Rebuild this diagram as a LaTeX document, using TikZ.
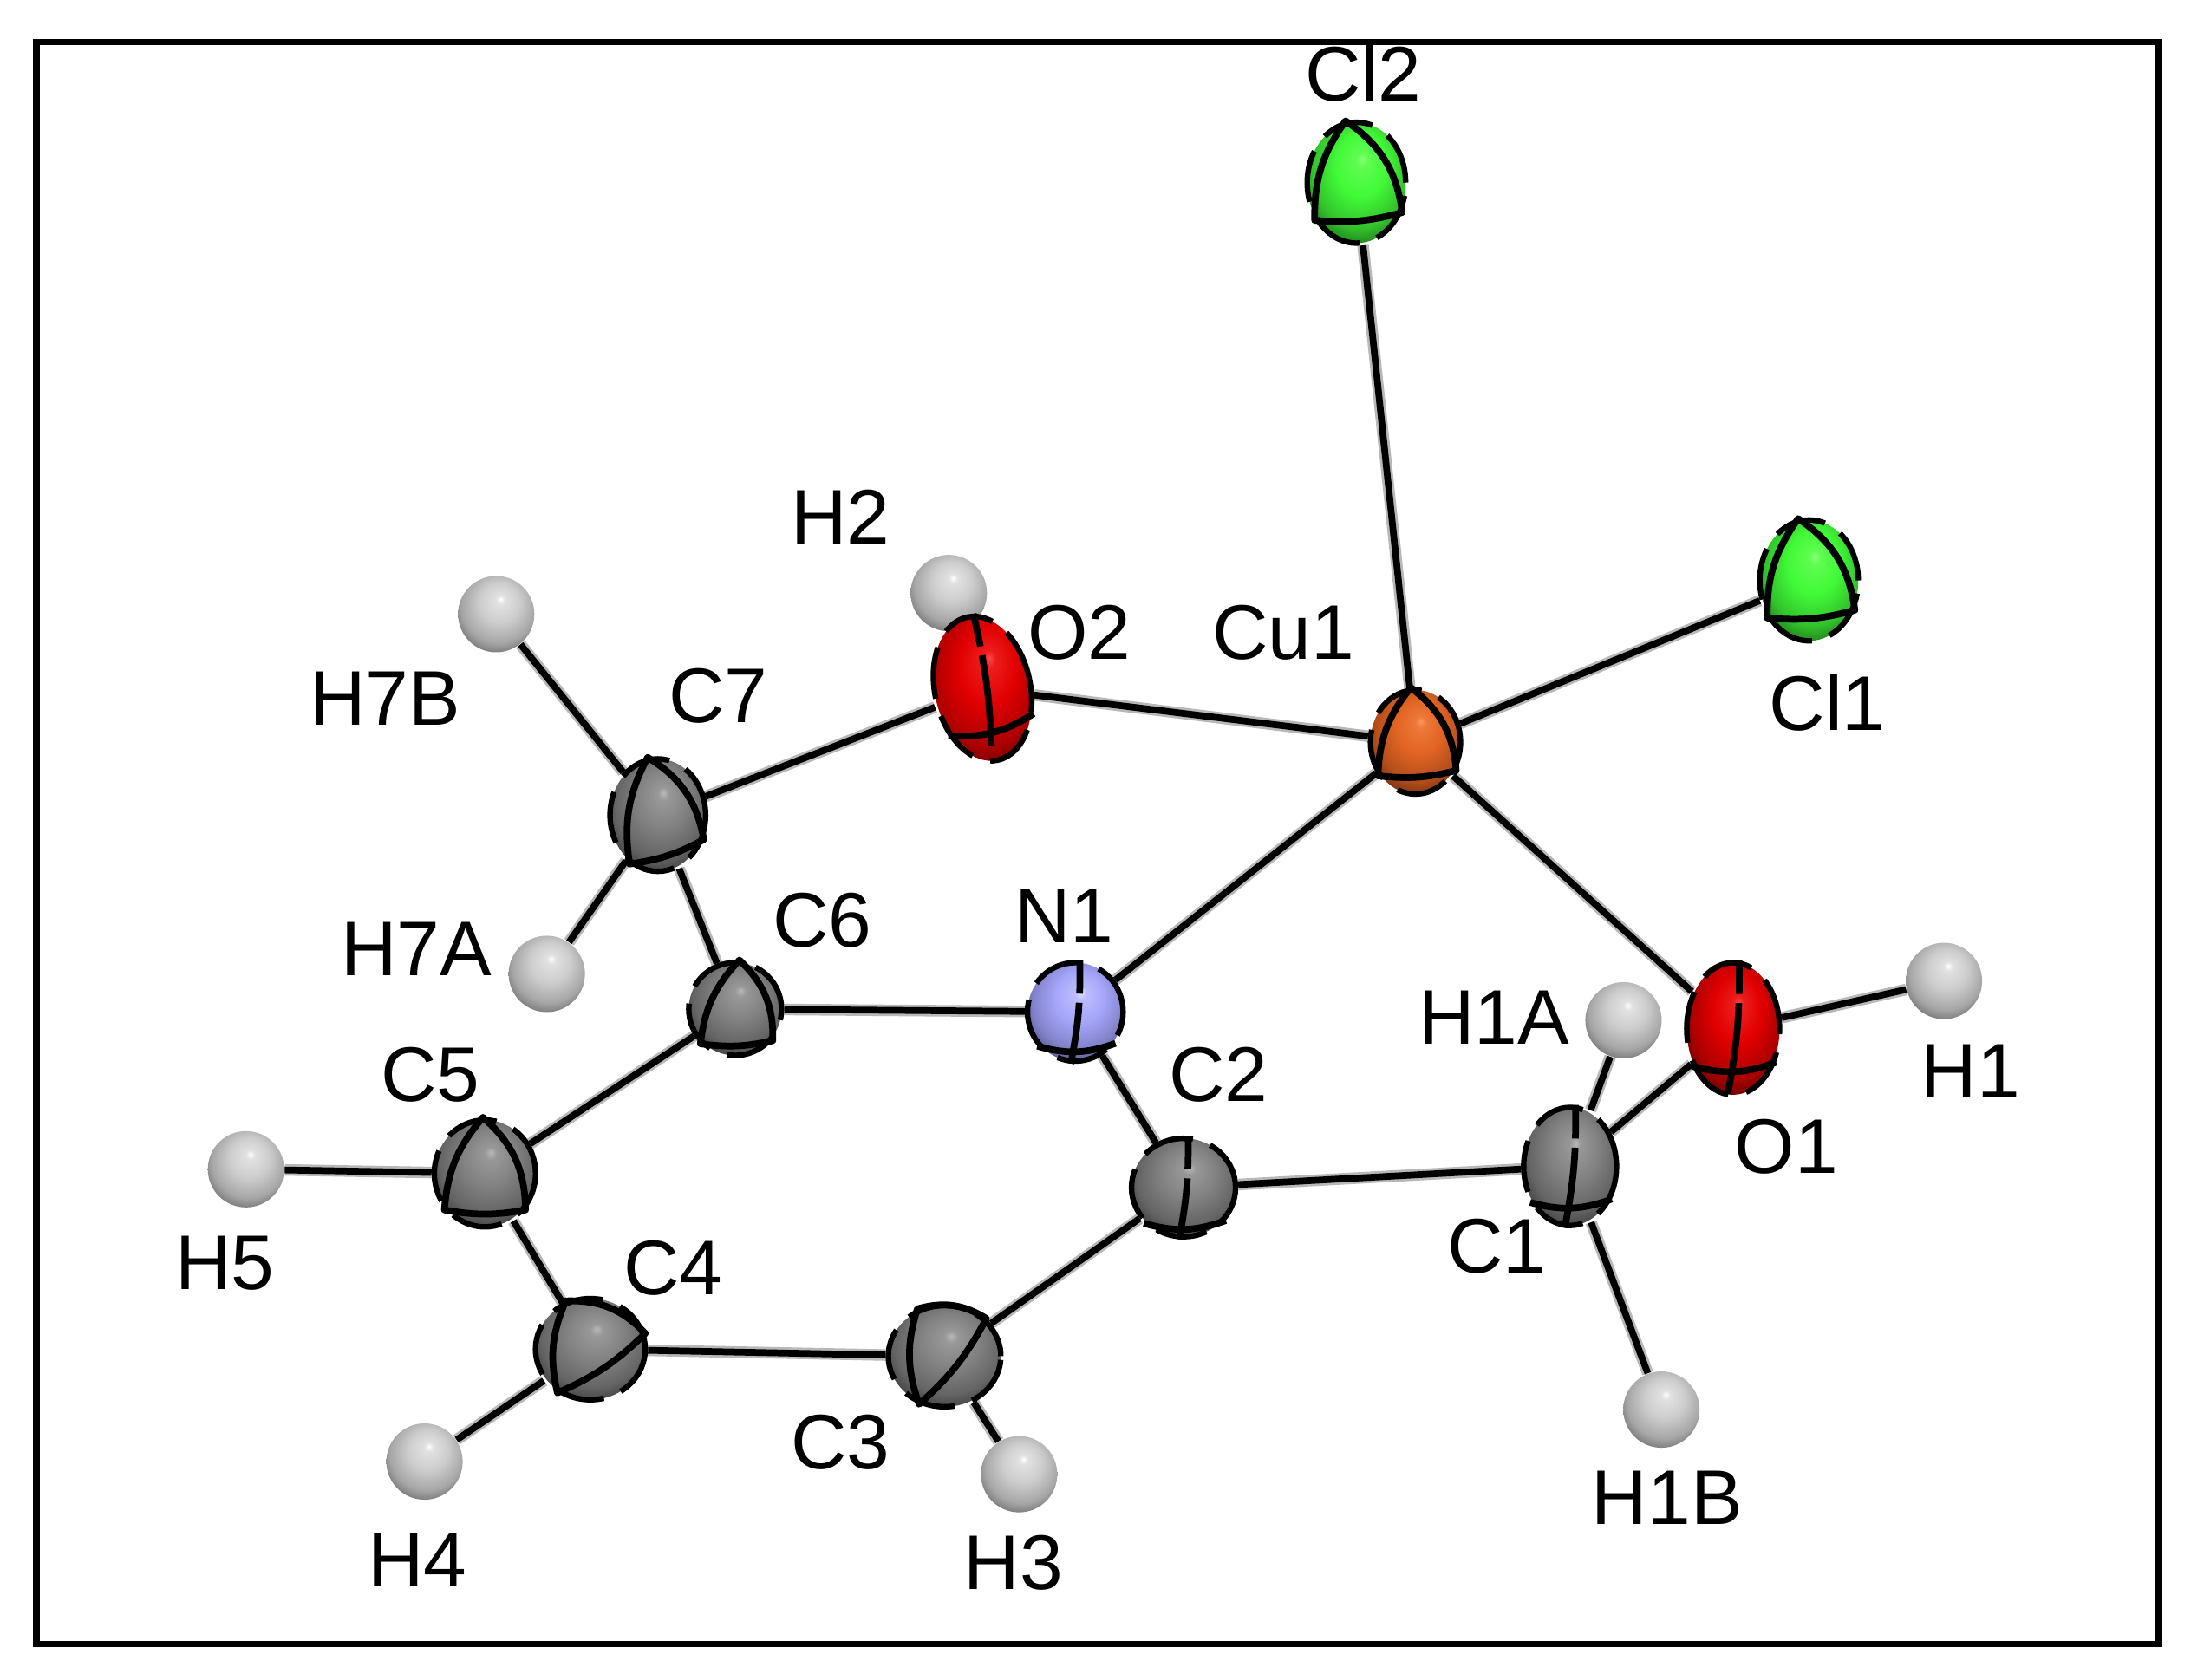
\documentclass[tikz,border=0pt]{standalone}
\usepackage{fontspec}
\setmainfont{Liberation Sans}
\usetikzlibrary{shapes.geometric,backgrounds}

\definecolor{Chi}{RGB}{185,185,185}
\definecolor{Cmid}{RGB}{130,130,130}
\definecolor{Clo}{RGB}{38,38,38}
\definecolor{Ohi}{RGB}{255,70,70}
\definecolor{Omid}{RGB}{225,0,0}
\definecolor{Olo}{RGB}{60,0,0}
\definecolor{Clhi}{RGB}{140,255,120}
\definecolor{Clmid}{RGB}{65,250,55}
\definecolor{Cllo}{RGB}{18,75,18}
\definecolor{Cuhi}{RGB}{255,150,90}
\definecolor{Cumid}{RGB}{225,100,35}
\definecolor{Culo}{RGB}{80,30,8}
\definecolor{Nhi}{RGB}{225,225,255}
\definecolor{Nmid}{RGB}{165,165,250}
\definecolor{Nlo}{RGB}{55,55,100}
\definecolor{Hhi}{RGB}{255,255,255}
\definecolor{Hmid}{RGB}{205,205,205}
\definecolor{Hlo}{RGB}{85,85,85}

\newcommand{\atomshading}[4]{\pgfdeclareradialshading{#1}{\pgfpoint{3bp}{10bp}}{color(0bp)=(#2); color(3bp)=(#2!40!#3); color(13bp)=(#3); color(24bp)=(#3!68!#4); color(35bp)=(#4); color(50bp)=(#4)}}
\atomshading{Cball}{Chi}{Cmid}{Clo}
\atomshading{Oball}{Ohi}{Omid}{Olo}
\atomshading{Clball}{Clhi}{Clmid}{Cllo}
\atomshading{Cuball}{Cuhi}{Cumid}{Culo}
\atomshading{Nball}{Nhi}{Nmid}{Nlo}
\atomshading{Hball}{Hhi}{Hmid}{Hlo}

\tikzset{
    sz/.style 2 args={minimum width=#1*0.032424cm, minimum height=#2*0.032424cm},
    atom/.style={ellipse, inner sep=0pt, draw=black, line width=1.8pt, dash pattern=on 17pt off 6pt},
    carbon/.style={atom, shading=Cball},
    oxygen/.style={atom, shading=Oball},
    chlorine/.style={atom, shading=Clball},
    copper/.style={atom, shading=Cuball},
    nitrogen/.style={atom, shading=Nball},
    hydrogen/.style={circle, inner sep=0pt, minimum size=0.88cm, shading=Hball},
    bond/.style={line width=2.2pt, black, preaction={draw, black!28, line width=3.8pt}},
    axisline/.style={line width=2.2pt, black},
    lbl/.style={inner sep=0pt, font=\fontsize{25.4}{30}\selectfont, text=black}
}

\begin{document}
\begin{tikzpicture}[x=0.016212cm, y=-0.016212cm]
    \useasboundingbox (0,0) rectangle (1568,1195.4);
    \draw[line width=2.1pt] (26,30) rectangle (1536,1170);

    \node[hydrogen] (H2) at (675,422) {};
    \node[hydrogen] (H7B) at (353,437) {};
    \node[hydrogen] (H7A) at (389,693) {};
    \node[hydrogen] (H1A) at (1155,726) {};
    \node[hydrogen] (H1) at (1383,698) {};
    \node[hydrogen] (H5) at (175,832) {};
    \node[hydrogen] (H4) at (302,1040) {};
    \node[hydrogen] (H3) at (725,1049) {};
    \node[hydrogen] (H1B) at (1182,1003) {};

    \node[chlorine, sz={35}{43}] (Cl2) at (965,130) {};
    \node[chlorine, sz={35}{43}] (Cl1) at (1287,413) {};
    \node[copper, sz={32}{37}] (Cu1) at (1007,528) {};
    \node[oxygen, sz={34}{52}, rotate=12] (O2) at (699,490) {};
    \node[oxygen, sz={33}{47}] (O1) at (1233,732) {};
    \node[nitrogen, sz={34}{35}] (N1) at (765,720) {};
    \node[carbon, sz={34}{40}] (C7) at (468,580) {};
    \node[carbon, sz={33}{33}] (C6) at (523,718) {};
    \node[carbon, sz={36}{38}] (C5) at (345,835) {};
    \node[carbon, sz={39}{36}] (C4) at (420,960) {};
    \node[carbon, sz={40}{36}] (C3) at (672,965) {};
    \node[carbon, sz={37}{35}] (C2) at (842,845) {};
    \node[carbon, sz={33}{42}] (C1) at (1117,830) {};

    \foreach \a/\t/\r/\l in {Cl2/100/-33/222,Cl1/100/-33/222,Cu1/95/-35/222,C7/100/-28/240,C6/85/-40/225,C5/92/-42/222,C4/117/16/233,C3/120/42/242} {
        \draw[axisline, line join=round] (\a.\t) to[bend left=24] (\a.\r) to[bend left=10] (\a.\l) to[bend left=18] cycle;
    }
    \foreach \a in {O2,O1,N1,C2,C1} {
        \draw[axisline, dash pattern=on 11pt off 3pt on 30pt] (\a.85) to[bend left=6] (\a.265);
        \draw[axisline] (\a.222) to[bend right=18] (\a.-38);
    }

    \begin{scope}[on background layer]
        \foreach \a/\b in {Cu1/Cl2,Cu1/Cl1,Cu1/O2,Cu1/N1,Cu1/O1,O2/C7,O2/H2,C7/H7B,C7/H7A,C7/C6,C6/N1,C6/C5,C5/H5,C5/C4,C4/H4,C4/C3,C3/H3,C3/C2,C2/N1,C2/C1,C1/H1A,C1/O1,C1/H1B,O1/H1} {
            \draw[bond] (\a) -- (\b);
        }
    \end{scope}

    \node[lbl] (lCl2) at (970,52) {Cl2};
    \node[lbl] (lCl1) at (1300,500) {Cl1};
    \node[lbl] (lCu1) at (913,450) {Cu1};
    \node[lbl] (lO2) at (768,450) {O2};
    \node[lbl] (lH2) at (598,368) {H2};
    \node[lbl] (lH7B) at (274,497) {H7B};
    \node[lbl] (lC7) at (511,495) {C7};
    \node[lbl] (lH7A) at (296,675) {H7A};
    \node[lbl] (lC6) at (585,655) {C6};
    \node[lbl] (lN1) at (757,652) {N1};
    \node[lbl] (lC5) at (306,765) {C5};
    \node[lbl] (lC2) at (867,765) {C2};
    \node[lbl] (lH1A) at (1063,724) {H1A};
    \node[lbl] (lH1) at (1402,762) {H1};
    \node[lbl] (lO1) at (1271,816) {O1};
    \node[lbl] (lC1) at (1065,887) {C1};
    \node[lbl] (lH5) at (160,899) {H5};
    \node[lbl] (lC4) at (479,902) {C4};
    \node[lbl] (lC3) at (598,1026) {C3};
    \node[lbl] (lH4) at (297,1110) {H4};
    \node[lbl] (lH3) at (721,1112) {H3};
    \node[lbl] (lH1B) at (1186,1066) {H1B};
\end{tikzpicture}
\end{document}
